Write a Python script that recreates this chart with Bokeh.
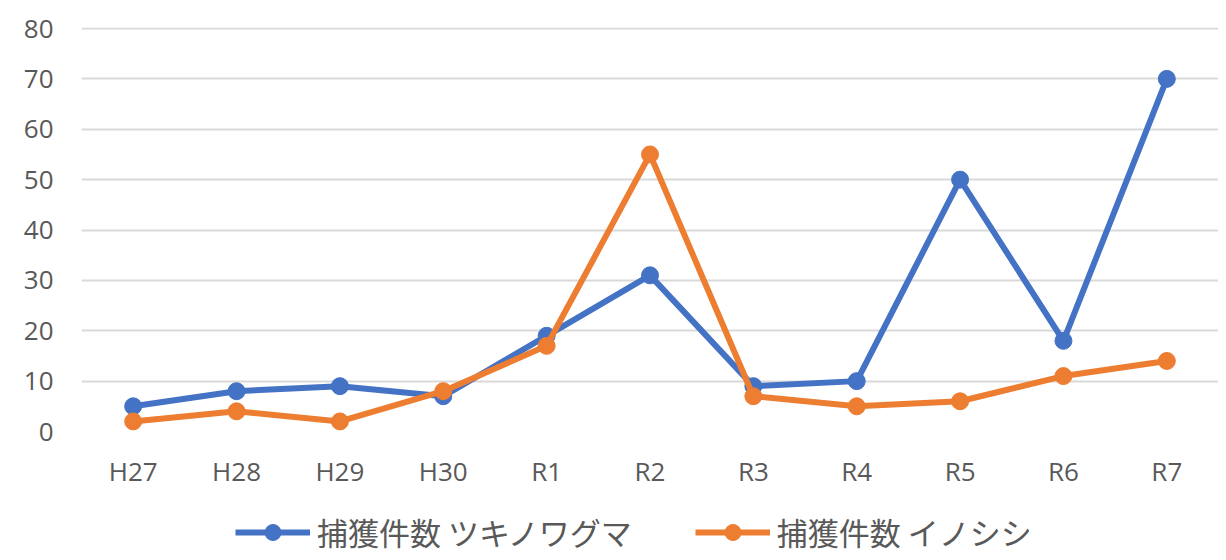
from bokeh.plotting import figure
from bokeh.models import Range1d, Legend, LegendItem, FactorRange
from bokeh.layouts import column
from bokeh.embed import file_html
from bokeh.resources import INLINE

years = ["H27", "H28", "H29", "H30", "R1", "R2", "R3", "R4", "R5", "R6", "R7"]
bear = [5, 8, 9, 7, 19, 31, 9, 10, 50, 18, 70]
boar = [2, 4, 2, 8, 17, 55, 7, 5, 6, 11, 14]
label_bear = "捕獲件数 ツキノワグマ"
label_boar = "捕獲件数 イノシシ"
y_ticks = [0, 10, 20, 30, 40, 50, 60, 70, 80]

BLUE = "#4472C4"
ORANGE = "#ED7D31"
GREY = "#595959"

xr = FactorRange(*years)

# main chart
p = figure(width=1218, height=508, x_range=xr, y_range=Range1d(0, 80.2),
           output_backend="svg", toolbar_location=None)
p.min_border_left = 81
p.min_border_right = 0
p.min_border_top = 27
p.min_border_bottom = 77
p.outline_line_color = None
p.background_fill_color = "white"
p.border_fill_color = "white"

p.line(years, bear, line_color=BLUE, line_width=6)
p.scatter(years, bear, size=17, fill_color=BLUE, line_color=BLUE)
p.line(years, boar, line_color=ORANGE, line_width=6)
p.scatter(years, boar, size=17, fill_color=ORANGE, line_color=ORANGE)

p.yaxis.ticker = y_ticks
p.xgrid.grid_line_color = None
p.ygrid.grid_line_color = "#d9d9d9"
p.ygrid.grid_line_width = 2

for ax in (p.xaxis[0], p.yaxis[0]):
    ax.axis_line_color = None
    ax.major_tick_line_color = None
    ax.minor_tick_line_color = None
    ax.major_label_text_color = GREY
    ax.major_label_text_font = "Open Sans"
    ax.major_label_text_font_size = "26px"
p.yaxis.major_label_standoff = 22
p.xaxis.major_label_standoff = 15

# legend strip: same series, drawn outside the visible y window, only their legend shows
q = figure(width=1218, height=46, x_range=xr, y_range=Range1d(-30, -20),
           x_axis_type=None, y_axis_type=None, output_backend="svg", toolbar_location=None)
q.min_border = 0
q.outline_line_color = None
q.xgrid.grid_line_color = None
q.ygrid.grid_line_color = None
q.border_fill_color = "white"
q.background_fill_color = "white"
k1 = q.line(years, bear, line_color=BLUE, line_width=6)
m1 = q.scatter(years, bear, size=17, fill_color=BLUE, line_color=BLUE)
k2 = q.line(years, boar, line_color=ORANGE, line_width=6)
m2 = q.scatter(years, boar, size=17, fill_color=ORANGE, line_color=ORANGE)

legend = Legend(items=[LegendItem(label=label_bear, renderers=[k1, m1]),
                       LegendItem(label=label_boar, renderers=[k2, m2])],
                orientation="horizontal", location=(154, 0))
legend.label_text_font = "Noto Sans CJK JP"
legend.label_text_font_size = "31px"
legend.label_text_color = GREY
legend.glyph_width = 75
legend.glyph_height = 40
legend.label_standoff = 7
legend.spacing = 63
legend.margin = 0
legend.padding = 0
legend.border_line_color = None
legend.background_fill_alpha = 0
q.add_layout(legend, "center")

layout = column(p, q, spacing=0)
open("out.html", "w").write(file_html(layout, INLINE))
